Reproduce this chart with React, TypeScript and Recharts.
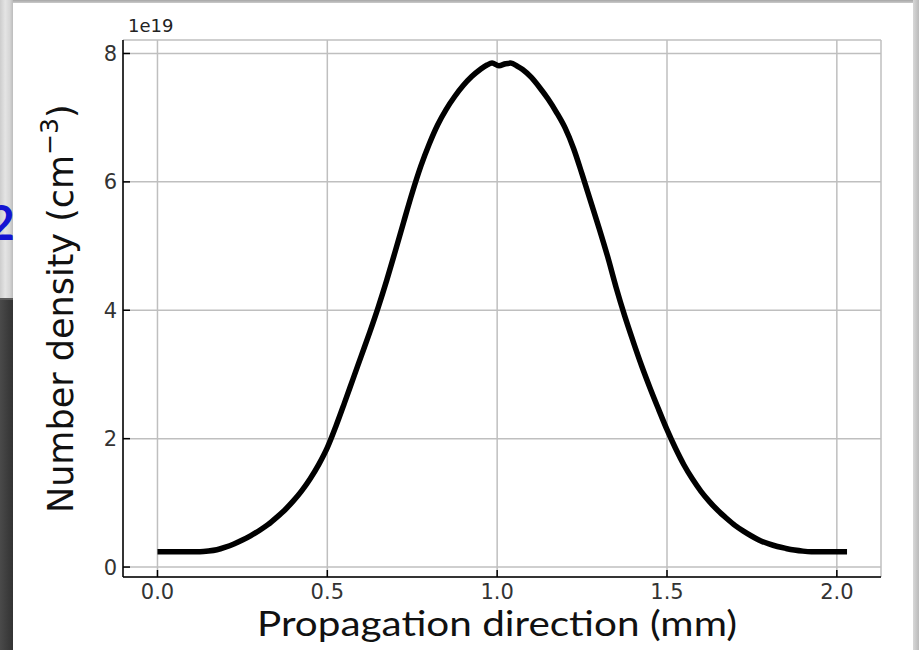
import { CartesianGrid, Line, LineChart, XAxis, YAxis } from 'recharts'

// density profile along the propagation axis, in units of 1e19 cm^-3
const positionMm = [
  0.0, 0.06, 0.125, 0.15, 0.175, 0.2, 0.225, 0.25, 0.275, 0.3, 0.325, 0.35, 0.375, 0.4, 0.425, 0.45,
  0.475, 0.5, 0.525, 0.55, 0.575, 0.6, 0.625, 0.65, 0.675, 0.7, 0.725, 0.75, 0.775, 0.8, 0.825, 0.85,
  0.875, 0.9, 0.925, 0.95, 0.97, 0.985, 1.005, 1.025, 1.04, 1.06, 1.075, 1.1, 1.125, 1.15, 1.175, 1.2,
  1.225, 1.25, 1.275, 1.3, 1.325, 1.35, 1.375, 1.4, 1.425, 1.45, 1.475, 1.5, 1.525, 1.55, 1.575, 1.6,
  1.625, 1.65, 1.675, 1.7, 1.725, 1.75, 1.775, 1.8, 1.825, 1.85, 1.875, 1.9, 1.925, 1.975, 2.03,
]
const densityE19 = [
  0.24, 0.24, 0.24, 0.25, 0.27, 0.31, 0.36, 0.42, 0.49, 0.57, 0.66, 0.77, 0.89, 1.03, 1.19, 1.38,
  1.6, 1.86, 2.19, 2.55, 2.92, 3.29, 3.66, 4.05, 4.47, 4.92, 5.38, 5.83, 6.24, 6.59, 6.89, 7.13,
  7.33, 7.5, 7.64, 7.75, 7.82, 7.85, 7.81, 7.84, 7.85, 7.8, 7.75, 7.63, 7.47, 7.29, 7.08, 6.84,
  6.52, 6.12, 5.7, 5.28, 4.84, 4.36, 3.92, 3.52, 3.14, 2.79, 2.46, 2.14, 1.85, 1.59, 1.37, 1.18,
  1.02, 0.88, 0.76, 0.65, 0.56, 0.48, 0.41, 0.36, 0.32, 0.29, 0.265, 0.248, 0.24, 0.24, 0.24,
]

const xTicks = [0, 0.5, 1, 1.5, 2]
const xTickLabels = ['0.0', '0.5', '1.0', '1.5', '2.0']
const yTicks = [0, 2, 4, 6, 8]
const yTickLabels = ['0', '2', '4', '6', '8']

const xTitle = 'Propagation direction (mm)'
const yTitle = 'Number density (cm'
const yTitleExp = '−3'
const offsetText = '1e19'

const data = positionMm.map((x, i) => ({ x, n: densityE19[i] }))

const tickFont = {
  fontFamily: '"DejaVu Sans", sans-serif',
  fontSize: 21,
  fill: '#333',
}

// ticks point into the axes, labels sit outside
function YTick({ x, y, payload }: any) {
  const i = yTicks.indexOf(payload.value)
  return (
    <g>
      <line x1={x + 6} x2={x + 13} y1={y} y2={y} stroke="#000" strokeWidth={1.5} />
      <text x={x} y={y + 7.5} textAnchor="end" {...tickFont}>
        {i >= 0 ? yTickLabels[i] : payload.value}
      </text>
    </g>
  )
}

function XTick({ x, y, payload }: any) {
  const i = xTicks.indexOf(payload.value)
  return (
    <g>
      <line x1={x} x2={x} y1={y - 8} y2={y - 15} stroke="#000" strokeWidth={1.5} />
      <text x={x} y={y + 14} textAnchor="middle" {...tickFont}>
        {i >= 0 ? xTickLabels[i] : payload.value}
      </text>
    </g>
  )
}

const frame = { stroke: '#000', strokeWidth: 1.5 }

export default function App() {
  return (
    <div
      style={{
        position: 'absolute',
        left: 0,
        top: 0,
        width: 919,
        height: 650,
        background: '#fff',
        overflow: 'hidden',
      }}
    >
      {/* slide edges around the figure */}
      <div style={{ position: 'absolute', left: 0, top: 0, width: 919, height: 3, background: 'linear-gradient(#a6a6a6, #cacaca)' }} />
      <div
        style={{
          position: 'absolute',
          left: 0,
          top: 0,
          width: 13,
          height: 298,
          background: 'linear-gradient(to right, #cdcdcd, #e4e4e4 40%, #d6d6d6 75%, #bcbcbc)',
        }}
      />
      <div style={{ position: 'absolute', left: 0, top: 298, width: 13, height: 2, background: '#5a5a5a' }} />
      <div
        style={{
          position: 'absolute',
          left: 0,
          top: 300,
          width: 13,
          height: 350,
          background: 'linear-gradient(to right, #4a4a4a, #3c3c3c 60%, #333)',
        }}
      />
      <div
        style={{
          position: 'absolute',
          left: 913,
          top: 0,
          width: 6,
          height: 650,
          background: 'linear-gradient(to right, #d8d8d8, #bababa)',
        }}
      />

      <div style={{ position: 'absolute', left: 0, top: 0 }}>
        <LineChart width={919} height={650} data={data} margin={{ top: 40, right: 38, left: 83, bottom: 33 }}>
          <CartesianGrid stroke="#bfbfbf" strokeWidth={1.5} />
          <XAxis
            dataKey="x"
            type="number"
            domain={[-0.1015, 2.13]}
            allowDataOverflow
            ticks={xTicks}
            interval={0}
            height={40}
            tickSize={0}
            tickMargin={8}
            tick={<XTick />}
            axisLine={frame}
          />
          <XAxis
            xAxisId="top"
            orientation="top"
            dataKey="x"
            type="number"
            domain={[-0.1015, 2.13]}
            height={0}
            tick={false}
            tickLine={false}
            axisLine={frame}
          />
          <YAxis
            type="number"
            domain={[-0.155, 8.21]}
            allowDataOverflow
            ticks={yTicks}
            interval={0}
            width={40}
            tickSize={0}
            tickMargin={6}
            tick={<YTick />}
            axisLine={frame}
          />
          <YAxis
            yAxisId="right"
            orientation="right"
            type="number"
            domain={[-0.155, 8.21]}
            width={0}
            tick={false}
            tickLine={false}
            axisLine={frame}
          />
          <Line
            dataKey="n"
            type="monotone"
            stroke="#000"
            strokeWidth={5.5}
            dot={false}
            activeDot={false}
            isAnimationActive={false}
          />
        </LineChart>
      </div>

      <svg width={919} height={650} style={{ position: 'absolute', left: 0, top: 0, pointerEvents: 'none' }}>
        <text x={-13} y={240} fontFamily="Lato, sans-serif" fontWeight={700} fontSize={48} fill="#1414d2">
          2
        </text>
        <text x={128} y={32} fontFamily='"DejaVu Sans", sans-serif' fontSize={18} fill="#222">
          {offsetText}
        </text>
        <text
          x={73}
          y={513}
          transform="rotate(-90 73 513)"
          fontFamily='"DejaVu Sans", sans-serif'
          fontSize={35}
          fill="#111"
        >
          {yTitle}
          <tspan dy={-15} fontSize={25}>
            {yTitleExp}
          </tspan>
          <tspan dy={15}>)</tspan>
        </text>
        <text
          x={257}
          y={636}
          textLength={480}
          lengthAdjust="spacingAndGlyphs"
          fontFamily="Lato, sans-serif"
          fontSize={35}
          fill="#111"
        >
          {xTitle}
        </text>
      </svg>
    </div>
  )
}
